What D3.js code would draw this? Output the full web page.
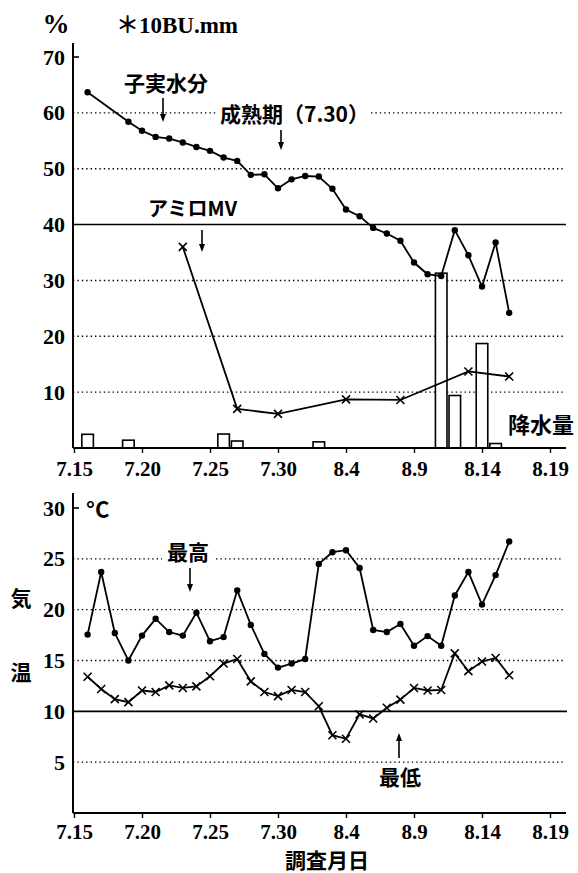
<!DOCTYPE html>
<html>
<head>
<meta charset="utf-8">
<script src="https://cdn.jsdelivr.net/npm/d3@7"></script>
<style>
body { margin: 0; background: #fff; }
svg { display: block; background: #fff; }
.num { font-family: "Liberation Serif", "DejaVu Serif", serif; font-weight: bold; }
.jp { font-family: "Noto Sans CJK JP", sans-serif; font-weight: bold; }
</style>
</head>
<body>
<svg width="578" height="873"></svg>
<script>
// days counted from 7.15
var dayTicks = [0, 5, 10, 15, 20, 25, 30, 35];
var dayLabels = ["7.15", "7.20", "7.25", "7.30", "8.4", "8.9", "8.14", "8.19"];

// top chart: grain moisture %
var moistDays = [1, 4, 5, 6, 7, 8, 9, 10, 11, 12, 13, 14, 15, 16, 17, 18, 19, 20, 21, 22, 23, 24, 25, 26, 27, 28, 29, 30, 31, 32];
var moistVals = [63.7, 58.4, 56.8, 55.7, 55.4, 54.7, 53.9, 53.2, 52.0, 51.4, 48.9, 49.0, 46.5, 48.1, 48.7, 48.6, 46.4, 42.7, 41.5, 39.4, 38.4, 37.1, 33.2, 31.1, 30.8, 39.0, 34.5, 28.9, 36.8, 24.2];
var amiloDays = [8, 12, 15, 20, 24, 29, 32];
var amiloVals = [36.0, 7.0, 6.1, 8.7, 8.6, 13.7, 12.8];
var rainDays = [1, 4, 11, 12, 18, 27, 28, 30, 31];
var rainVals = [2.45, 1.4, 2.5, 1.25, 1.1, 31.3, 9.4, 18.7, 0.8];
var topTicks = [10, 20, 30, 40, 50, 60, 70];

// bottom chart: air temperature
var tempDays = [1, 2, 3, 4, 5, 6, 7, 8, 9, 10, 11, 12, 13, 14, 15, 16, 17, 18, 19, 20, 21, 22, 23, 24, 25, 26, 27, 28, 29, 30, 31, 32];
var maxVals = [17.55, 23.7, 17.7, 15.0, 17.45, 19.1, 17.8, 17.45, 19.7, 16.9, 17.3, 21.9, 18.5, 15.65, 14.3, 14.7, 15.15, 24.5, 25.65, 25.85, 24.1, 18.0, 17.8, 18.6, 16.45, 17.4, 16.45, 21.4, 23.7, 20.5, 23.4, 26.7];
var minVals = [13.4, 12.2, 11.2, 10.9, 12.05, 11.9, 12.55, 12.3, 12.45, 13.45, 14.7, 15.15, 12.95, 11.9, 11.5, 12.1, 11.9, 10.5, 7.65, 7.3, 9.7, 9.3, 10.35, 11.15, 12.3, 12.05, 12.1, 15.7, 13.95, 14.9, 15.25, 13.55];
var botTicks = [5, 10, 15, 20, 25, 30];

var svg = d3.select("svg");
var x = d3.scaleLinear().domain([0, 35]).range([74, 550]);
var yTop = d3.scaleLinear().domain([0, 70]).range([448, 57]);
var yBot = d3.scaleLinear().domain([0, 30]).range([813, 508]);
var left = 73, right = 563;

function hline(y, x1, x2, dotted) {
  var l = svg.append("line")
    .attr("x1", x1).attr("x2", x2).attr("y1", y).attr("y2", y)
    .attr("stroke", "#000");
  if (dotted) l.attr("stroke-width", 1.4).attr("stroke-dasharray", "1.4,3");
  else l.attr("stroke-width", 1.6);
}

function arrow(xp, y1, y2) {
  // y1 = tail, y2 = tip
  var dir = y2 > y1 ? 1 : -1;
  svg.append("line").attr("x1", xp).attr("x2", xp).attr("y1", y1).attr("y2", y2 - dir * 6)
    .attr("stroke", "#000").attr("stroke-width", 1.6);
  svg.append("path")
    .attr("d", "M" + (xp - 3) + "," + (y2 - dir * 8) + "L" + (xp + 3) + "," + (y2 - dir * 8) + "L" + xp + "," + y2 + "Z")
    .attr("fill", "#000");
}

function series(days, vals, y, marker) {
  var pts = days.map(function(d, i) { return [x(d), y(vals[i])]; });
  svg.append("path").datum(pts)
    .attr("d", d3.line())
    .attr("fill", "none").attr("stroke", "#000").attr("stroke-width", 1.8);
  if (marker == "dot") {
    svg.append("g").selectAll("circle").data(pts).enter().append("circle")
      .attr("cx", function(p) { return p[0]; })
      .attr("cy", function(p) { return p[1]; })
      .attr("r", 3.2).attr("fill", "#000");
  } else {
    svg.append("g").selectAll("path").data(pts).enter().append("path")
      .attr("d", function(p) {
        var s = 4;
        return "M" + (p[0] - s) + "," + (p[1] - s) + "L" + (p[0] + s) + "," + (p[1] + s) +
               "M" + (p[0] - s) + "," + (p[1] + s) + "L" + (p[0] + s) + "," + (p[1] - s);
      })
      .attr("stroke", "#000").attr("stroke-width", 1.6);
  }
}

function xAxis(y0, pad) {
  var g = svg.append("g").attr("class", "num")
    .attr("transform", "translate(0," + y0 + ")")
    .call(d3.axisBottom(x).tickValues(dayTicks)
      .tickFormat(function(d, i) { return dayLabels[i]; })
      .tickSize(5).tickPadding(pad));
  g.select(".domain").remove();
  g.selectAll("line").attr("stroke-width", 1.4);
  g.selectAll("text").attr("font-size", 21).attr("fill", "#000")
    .attr("font-family", "Liberation Serif").attr("font-weight", "bold");
  svg.append("line").attr("x1", left).attr("x2", 566).attr("y1", y0).attr("y2", y0)
    .attr("stroke", "#000").attr("stroke-width", 2);
}

function yAxis(scale, ticks, yTopEnd) {
  var g = svg.append("g")
    .attr("transform", "translate(" + left + ",0)")
    .call(d3.axisLeft(scale).tickValues(ticks).tickSize(0).tickPadding(8));
  g.select(".domain").remove();
  g.selectAll("text").attr("font-size", 22).attr("fill", "#000")
    .attr("font-family", "Liberation Serif").attr("font-weight", "bold");
  svg.append("line").attr("x1", left).attr("x2", left)
    .attr("y1", yTopEnd).attr("y2", scale(0))
    .attr("stroke", "#000").attr("stroke-width", 2);
}

// ---------- top chart ----------
hline(yTop(10), left, right, true);
hline(yTop(20), left, right, true);
hline(yTop(30), left, right, true);
hline(yTop(50), left, right, true);
hline(yTop(60), left, 217, true);
hline(yTop(60), 371, right, true);
hline(yTop(40), left, 566, false);
svg.append("line").attr("x1", left).attr("x2", left + 6).attr("y1", yTop(70)).attr("y2", yTop(70))
  .attr("stroke", "#000").attr("stroke-width", 1.6);

var bw = 0.85;
svg.append("g").selectAll("rect").data(rainDays).enter().append("rect")
  .attr("x", function(d) { return x(d - bw / 2); })
  .attr("width", x(bw) - x(0))
  .attr("y", function(d, i) { return yTop(rainVals[i]); })
  .attr("height", function(d, i) { return yTop(0) - yTop(rainVals[i]); })
  .attr("fill", "#fff").attr("stroke", "#000").attr("stroke-width", 1.6);

series(moistDays, moistVals, yTop, "dot");
series(amiloDays, amiloVals, yTop, "cross");

yAxis(yTop, topTicks, 43);
xAxis(448, 8);

svg.append("text").attr("class", "num").attr("x", 56).attr("y", 33)
  .attr("text-anchor", "middle").attr("font-size", 27).text("%");
svg.append("text").attr("x", 116).attr("y", 33).attr("font-size", 23)
  .call(function(t) {
    t.append("tspan").attr("class", "jp").text("＊");
    t.append("tspan").attr("class", "num").attr("font-weight", "normal").text("10BU.mm");
  });

svg.append("text").attr("class", "jp").attr("x", 166).attr("y", 91)
  .attr("text-anchor", "middle").attr("font-size", 21).text("子実水分");
arrow(163, 98, 122);
svg.append("text").attr("class", "jp").attr("x", 220).attr("y", 122)
  .attr("font-size", 21).text("成熟期（7.30）");
arrow(281, 130, 150);
svg.append("text").attr("class", "jp").attr("x", 148).attr("y", 216)
  .attr("font-size", 20).text("アミロMV");
arrow(202, 230, 252);
svg.append("text").attr("class", "jp").attr("x", 508).attr("y", 433)
  .attr("font-size", 22).text("降水量");

// ---------- bottom chart ----------
hline(yBot(5), left, right, true);
hline(yBot(15), left, right, true);
hline(yBot(20), left, right, true);
hline(yBot(25), left, 162, true);
hline(yBot(25), 216, right, true);
hline(yBot(10), left, 567, false);
svg.append("line").attr("x1", left).attr("x2", left + 6).attr("y1", yBot(30)).attr("y2", yBot(30))
  .attr("stroke", "#000").attr("stroke-width", 1.6);

series(tempDays, maxVals, yBot, "dot");
series(tempDays, minVals, yBot, "cross");

yAxis(yBot, botTicks, 493);
xAxis(813, 6);

svg.append("text").attr("class", "jp").attr("x", 86).attr("y", 518)
  .attr("font-size", 22).attr("font-weight", "normal").text("°C");
svg.append("text").attr("class", "jp").attr("x", 21).attr("y", 606)
  .attr("text-anchor", "middle").attr("font-size", 21).text("気");
svg.append("text").attr("class", "jp").attr("x", 21).attr("y", 680)
  .attr("text-anchor", "middle").attr("font-size", 21).text("温");
svg.append("text").attr("class", "jp").attr("x", 188).attr("y", 560)
  .attr("text-anchor", "middle").attr("font-size", 21).text("最高");
arrow(190, 568, 592);
svg.append("text").attr("class", "jp").attr("x", 400).attr("y", 785)
  .attr("text-anchor", "middle").attr("font-size", 21).text("最低");
arrow(399, 758, 733);
svg.append("text").attr("class", "jp").attr("x", 327).attr("y", 868)
  .attr("text-anchor", "middle").attr("font-size", 21).text("調査月日");
</script>
</body>
</html>
